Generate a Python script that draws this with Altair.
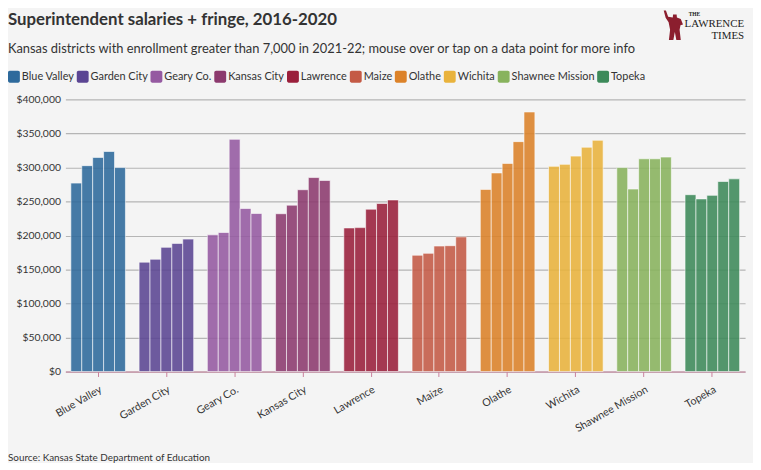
import altair as alt
import pandas as pd

districts = ["Blue Valley", "Garden City", "Geary Co.", "Kansas City", "Lawrence",
             "Maize", "Olathe", "Wichita", "Shawnee Mission", "Topeka"]
years = [2016, 2017, 2018, 2019, 2020]
colors = ["#2e6a9c", "#5b4593", "#955aa1", "#8c3a6e", "#9a1f3b",
          "#c45a45", "#dc8229", "#e9b33c", "#88b35d", "#3d8a5a"]

blue_valley = [277000, 302700, 314800, 323500, 299800]
garden_city = [160800, 165100, 182600, 188400, 194700]
geary_co = [201000, 204400, 341400, 239700, 232400]
kansas_city = [232000, 244600, 267300, 285200, 280900]
lawrence = [211100, 211600, 238700, 247000, 252300]
maize = [171000, 173800, 184500, 185000, 198000]
olathe = [267800, 292000, 306000, 338000, 381600]
wichita = [301700, 304600, 316700, 329800, 340000]
shawnee_mission = [299800, 268300, 312800, 312800, 315300]
topeka = [260000, 253800, 259000, 279400, 283300]

series = [blue_valley, garden_city, geary_co, kansas_city, lawrence,
          maize, olathe, wichita, shawnee_mission, topeka]

title_text = "Superintendent salaries + fringe, 2016-2020"
subtitle_text = ("Kansas districts with enrollment greater than 7,000 in 2021-22; "
                 "mouse over or tap on a data point for more info")
source_text = "Source: Kansas State Department of Education"

rows = []
for d, vals in zip(districts, series):
    for yr, v in zip(years, vals):
        rows.append({"district": d, "year": yr, "salary": v})
df = pd.DataFrame(rows)

FONT = "Lato"
TEXT = "#333333"

rounded_square = ("M-0.7,-1H0.7A0.3,0.3,0,0,1,1,-0.7V0.7A0.3,0.3,0,0,1,0.7,1"
                  "H-0.7A0.3,0.3,0,0,1,-1,0.7V-0.7A0.3,0.3,0,0,1,-0.7,-1Z")

bars = alt.Chart(df).mark_bar(
    opacity=0.88, stroke="white", strokeWidth=1, strokeOpacity=0.6
).encode(
    x=alt.X("district:N", sort=districts,
            scale=alt.Scale(paddingInner=0.2, paddingOuter=0.08),
            axis=alt.Axis(title=None, labelAngle=-30, labelAlign="right",
                          labelBaseline="top", labelFontSize=10.8,
                          labelColor=TEXT, labelFont=FONT, labelPadding=7,
                          domainColor="#c9809c", tickColor="#c9809c",
                          tickSize=5, grid=False)),
    xOffset=alt.XOffset("year:O"),
    y=alt.Y("salary:Q", scale=alt.Scale(domain=[0, 400000]),
            axis=alt.Axis(title=None, format="$,.0f",
                          values=[0, 50000, 100000, 150000, 200000,
                                  250000, 300000, 350000, 400000],
                          labelFontSize=10.5, labelColor=TEXT, labelFont=FONT,
                          labelPadding=5, domain=False, ticks=False,
                          gridColor="#b5b5b5", gridWidth=1.2)),
    color=alt.Color("district:N", sort=districts,
                    scale=alt.Scale(domain=districts, range=colors),
                    legend=alt.Legend(orient="none", legendX=-58, legendY=-29,
                                      direction="horizontal", title=None,
                                      gridAlign="none",
                                      symbolType=rounded_square,
                                      symbolSize=144, symbolOpacity=1,
                                      symbolStrokeWidth=0,
                                      labelFontSize=11, labelColor=TEXT,
                                      labelFont=FONT, labelOffset=2,
                                      columnPadding=2.5)),
    tooltip=[alt.Tooltip("district:N", title="District"),
             alt.Tooltip("year:O", title="Year"),
             alt.Tooltip("salary:Q", title="Salary + fringe", format="$,.0f")],
)


def label(text, x, y, size, font=FONT, weight="normal", align="left", color=TEXT):
    return alt.Chart(pd.DataFrame({"t": [text]})).mark_text(
        align=align, baseline="alphabetic", fontSize=size, font=font,
        fontWeight=weight, color=color
    ).encode(text="t:N", x=alt.value(x), y=alt.value(y))


title = label(title_text, -58, -75, 17, weight="bold")
subtitle = label(subtitle_text, -58, -47, 13)
source = label(source_text, -58, 365, 10)

logo_fig = alt.Chart(pd.DataFrame({"t": ["fig"]})).mark_point(
    shape=("M-0.12,-0.72L0.12,-0.72L0.14,-0.52L0.4,-0.42L0.55,-0.05L0.38,0L0.32,0.3"
           "L0.4,1L0.1,1L0,0.45L-0.1,1L-0.4,1L-0.32,0.3L-0.42,-0.2L-0.62,-0.5"
           "L-0.75,-1L-0.6,-1L-0.45,-0.58L-0.14,-0.52Z"),
    filled=True, color="#8b1e2e", opacity=1, size=900
).encode(x=alt.value(616), y=alt.value(-75))

logo_the = label("THE", 630, -84, 5.5, font="Liberation Serif", weight="bold", color="#222")
logo_law = label("LAWRENCE", 686, -73, 11, font="Liberation Serif", align="right", color="#222")
logo_times = label("TIMES", 686, -61, 11, font="Liberation Serif", align="right", color="#222")

chart = alt.layer(bars, title, subtitle, source,
                  logo_fig, logo_the, logo_law, logo_times).properties(
    width=687, height=275,
    autosize=alt.AutoSizeParams(type="none"),
    padding={"left": 58, "top": 90, "right": 8, "bottom": 90},
).configure(background="#f4f4f4").configure_view(stroke=None)

chart.save("out.html", embed_options={"renderer": "svg", "actions": False})
